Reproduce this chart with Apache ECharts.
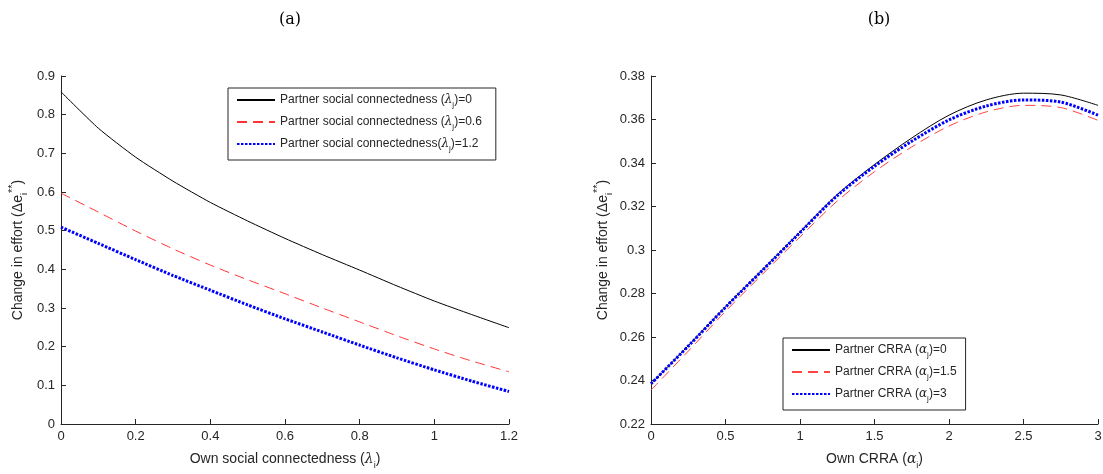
<!DOCTYPE html>
<html><head><meta charset="utf-8">
<script src="https://cdn.jsdelivr.net/npm/echarts@6/dist/echarts.min.js"></script>
<style>html,body{margin:0;padding:0;background:#fff}#c{width:1103px;height:474px}</style>
</head><body><div id="c"></div>
<script>
// Panel (a): own social connectedness
var lambdaOwn = [0, 0.1, 0.2, 0.3, 0.4, 0.5, 0.6, 0.7, 0.8, 0.9, 1.0, 1.1, 1.2];
var effortLambda0 = [0.859, 0.765, 0.690, 0.628, 0.573, 0.525, 0.480, 0.438, 0.398, 0.357, 0.318, 0.283, 0.249];
var effortLambda06 = [0.597, 0.548, 0.499, 0.453, 0.411, 0.373, 0.337, 0.300, 0.264, 0.228, 0.194, 0.163, 0.135];
var effortLambda12 = [0.509, 0.467, 0.425, 0.384, 0.346, 0.308, 0.272, 0.238, 0.204, 0.171, 0.140, 0.111, 0.084];
// Panel (b): own CRRA
var alphaOwn = [0, 0.25, 0.5, 0.75, 1.0, 1.25, 1.5, 1.75, 2.0, 2.25, 2.5, 2.75, 3.0];
var effortAlpha0 = [0.2384, 0.2560, 0.2739, 0.2910, 0.3083, 0.3255, 0.3393, 0.3515, 0.3620, 0.3690, 0.3721, 0.3713, 0.3665];
var effortAlpha15 = [0.2356, 0.2535, 0.2718, 0.2890, 0.3060, 0.3225, 0.3360, 0.3474, 0.3570, 0.3635, 0.3665, 0.3655, 0.3596];
var effortAlpha3 = [0.2385, 0.2558, 0.2737, 0.2908, 0.3080, 0.3250, 0.3385, 0.3500, 0.3598, 0.3662, 0.3690, 0.3680, 0.3620];

var legendA = ['Partner social connectedness (λj)=0', 'Partner social connectedness (λj)=0.6', 'Partner social connectedness(λj)=1.2'];
var legendB = ['Partner CRRA (αj)=0', 'Partner CRRA (αj)=1.5', 'Partner CRRA (αj)=3'];

function pairs(xs, ys) { return xs.map(function (x, i) { return [x, ys[i]]; }); }

var axisColor = '#262626';
var sans = 'Liberation Sans, Arial, sans-serif';
var richBase = {
  a: { fontSize: 12, fontFamily: sans, color: axisColor, lineHeight: 18, verticalAlign: 'middle' },
  g: { fontSize: 12, fontFamily: 'DejaVu Serif, serif', fontStyle: 'italic', color: axisColor, lineHeight: 18, verticalAlign: 'middle' },
  s: { fontSize: 8, fontFamily: sans, color: axisColor, lineHeight: 18, verticalAlign: 'bottom' }
};
function legendFmt(name) {
  var m = name.match(/^(.*?\()([λα])j(\).*)$/);
  return '{a|' + m[1] + '}{g|' + m[2] + '}{s|j}{a|' + m[3] + '}';
}
var axisNameRich = {
  a: { fontSize: 14, fontFamily: sans, color: axisColor, lineHeight: 22, verticalAlign: 'middle' },
  g: { fontSize: 14, fontFamily: 'DejaVu Serif, serif', fontStyle: 'italic', color: axisColor, lineHeight: 22, verticalAlign: 'middle' },
  s: { fontSize: 9, fontFamily: sans, color: axisColor, lineHeight: 22, verticalAlign: 'bottom' },
  p: { fontSize: 11, fontFamily: sans, color: axisColor, lineHeight: 22, verticalAlign: 'top' }
};
var yName = '{a|Change in effort (Δe}{s|i}{p|**}{a|)}';

function xAxis(idx, max, interval, name) {
  return {
    type: 'value', gridIndex: idx, min: 0, max: max, interval: interval,
    name: name, nameLocation: 'middle', nameGap: 24,
    nameTextStyle: { rich: axisNameRich },
    axisLine: { lineStyle: { color: axisColor, width: 1 } },
    axisTick: { inside: true, length: 5, lineStyle: { color: axisColor } },
    axisLabel: { color: axisColor, fontSize: 13, fontFamily: sans, margin: 6 },
    splitLine: { show: false }
  };
}
function yAxis(idx, min, max, interval, gap) {
  return {
    type: 'value', gridIndex: idx, min: min, max: max, interval: interval,
    name: yName, nameLocation: 'middle', nameGap: gap, nameRotate: 90,
    nameTextStyle: { rich: axisNameRich },
    axisLine: { show: true, lineStyle: { color: axisColor, width: 1 } },
    axisTick: { show: true, inside: true, length: 5, lineStyle: { color: axisColor } },
    axisLabel: { color: axisColor, fontSize: 13, fontFamily: sans, margin: 6 },
    splitLine: { show: false }
  };
}
function line(name, idx, data, color, width, dash, z, smooth) {
  return {
    type: 'line', name: name, xAxisIndex: idx, yAxisIndex: idx, data: data,
    showSymbol: false, symbol: 'none', smooth: smooth, z: z, animation: false,
    lineStyle: { color: color, width: width, type: dash }, itemStyle: { color: color }
  };
}
function legend(names, left, top, padRight) {
  return {
    data: names, orient: 'vertical', left: left, top: top,
    itemWidth: 38, itemHeight: 10, itemGap: 7,
    padding: [6, padRight, 7, 8],
    borderColor: axisColor, borderWidth: 1, backgroundColor: '#fff',
    itemStyle: { opacity: 0 },
    formatter: legendFmt,
    textStyle: { rich: richBase }
  };
}

var chart = echarts.init(document.getElementById('c'), null, { renderer: 'canvas' });
chart.setOption({
  animation: false,
  backgroundColor: '#fff',
  title: [
    { text: '(a)', left: 285, top: 7, textAlign: 'center', textStyle: { fontFamily: 'DejaVu Serif, serif', fontWeight: 'normal', fontSize: 16, color: '#000' } },
    { text: '(b)', left: 874, top: 7, textAlign: 'center', textStyle: { fontFamily: 'DejaVu Serif, serif', fontWeight: 'normal', fontSize: 16, color: '#000' } }
  ],
  grid: [
    { left: 61, top: 76, width: 448, height: 348, outerBoundsMode: 'none', containLabel: false },
    { left: 651, top: 76, width: 447, height: 348, outerBoundsMode: 'none', containLabel: false }
  ],
  xAxis: [
    xAxis(0, 1.2, 0.2, '{a|Own social connectedness (}{g|λ}{s|i}{a|)}'),
    xAxis(1, 3, 0.5, '{a|Own CRRA (}{g|α}{s|i}{a|)}')
  ],
  yAxis: [
    yAxis(0, 0, 0.9, 0.1, 32),
    yAxis(1, 0.22, 0.38, 0.02, 37)
  ],
  legend: [
    legend(legendA, 228, 88, 14),
    legend(legendB, 783, 338, 9)
  ],
  series: [
    line(legendA[0], 0, pairs(lambdaOwn, effortLambda0), '#000000', 1, 'solid', 2, 0.2),
    line(legendA[1], 0, pairs(lambdaOwn, effortLambda06), '#ff3333', 1, [10, 6], 3, 0.2),
    line(legendA[2], 0, pairs(lambdaOwn, effortLambda12), '#0000ff', 3, [2.5, 1.5], 4, 0.2),
    line(legendB[0], 1, pairs(alphaOwn, effortAlpha0), '#000000', 1, 'solid', 2, 0.3),
    line(legendB[1], 1, pairs(alphaOwn, effortAlpha15), '#ff4444', 1, [10, 6], 3, 0.3),
    line(legendB[2], 1, pairs(alphaOwn, effortAlpha3), '#0000ff', 3, [2.5, 1.5], 4, 0.3)
  ]
});
</script></body></html>
